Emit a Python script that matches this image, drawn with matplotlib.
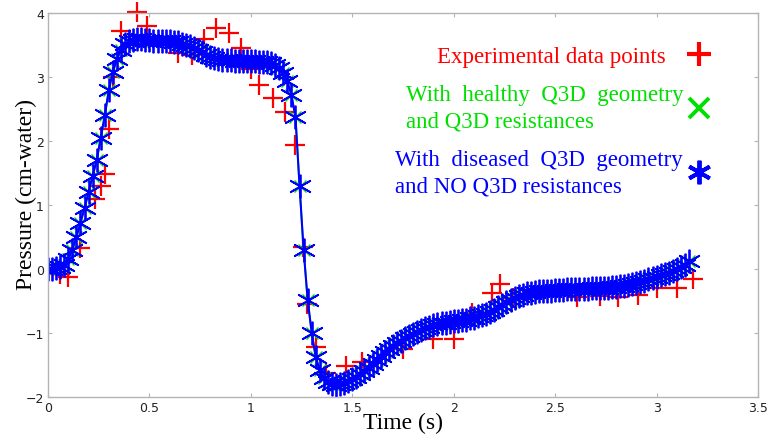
import numpy as np
import matplotlib
matplotlib.use("Agg")
import matplotlib.pyplot as plt
from matplotlib.lines import Line2D

# Simulated pressure, one sample every 0.02 s (rows of 0.2 s)
diseased_p = [
    0.00, 0.00, 0.01, 0.03, 0.07, 0.15, 0.30, 0.50, 0.72, 0.95,
    1.20, 1.45, 1.70, 2.05, 2.40, 2.80, 3.08, 3.28, 3.42, 3.51,
    3.56, 3.58, 3.59, 3.59, 3.58, 3.58, 3.57, 3.57, 3.57, 3.56,
    3.56, 3.55, 3.54, 3.52, 3.50, 3.48, 3.45, 3.42, 3.39, 3.35,
    3.32, 3.30, 3.28, 3.27, 3.26, 3.26, 3.25, 3.25, 3.25, 3.25,
    3.25, 3.25, 3.24, 3.24, 3.23, 3.22, 3.19, 3.14, 3.06, 2.93,
    2.72, 2.37, 1.30, 0.30, -0.48, -1.00, -1.38, -1.58, -1.70, -1.77,
    -1.80, -1.81, -1.80, -1.78, -1.75, -1.72, -1.68, -1.64, -1.59, -1.54,
    -1.48, -1.42, -1.36, -1.30, -1.25, -1.20, -1.16, -1.12, -1.08, -1.04,
    -1.01, -0.98, -0.95, -0.92, -0.90, -0.88, -0.86, -0.85, -0.84, -0.83,
    -0.82, -0.81, -0.80, -0.79, -0.77, -0.76, -0.74, -0.72, -0.70, -0.67,
    -0.64, -0.60, -0.56, -0.52, -0.48, -0.45, -0.42, -0.40, -0.38, -0.37,
    -0.36, -0.35, -0.35, -0.34, -0.34, -0.33, -0.33, -0.33, -0.32, -0.32,
    -0.32, -0.31, -0.31, -0.31, -0.30, -0.30, -0.30, -0.29, -0.29, -0.28,
    -0.28, -0.27, -0.26, -0.25, -0.24, -0.22, -0.20, -0.18, -0.16, -0.14,
    -0.12, -0.10, -0.08, -0.06, -0.03, 0.00, 0.03, 0.07, 0.12,
]
# healthy geometry run lies on top of the diseased one
healthy_p = list(diseased_p)
sim_t = np.arange(len(diseased_p)) * 0.02

# Measured points
exp_t = [0.06, 0.10, 0.16, 0.23, 0.26, 0.28, 0.30, 0.32, 0.36, 0.44,
         0.49, 0.64, 0.71, 0.77, 0.83, 0.89, 0.95, 1.00, 1.04, 1.11,
         1.17, 1.22, 1.255, 1.275, 1.32, 1.37, 1.47, 1.55, 1.75, 1.90,
         2.00, 2.09, 2.19, 2.23, 2.29, 2.61, 2.72, 2.81, 2.91, 3.00,
         3.10, 3.18]
exp_p = [-0.08, -0.12, 0.33, 1.10, 1.30, 1.48, 2.18, 3.00, 3.72, 4.02,
         3.80, 3.37, 3.35, 3.60, 3.77, 3.68, 3.45, 3.12, 2.88, 2.67,
         2.45, 1.93, 0.35, -0.55, -1.22, -1.62, -1.52, -1.45, -1.25, -1.10,
         -1.10, -0.68, -0.37, -0.24, -0.45, -0.44, -0.42, -0.44, -0.40, -0.30,
         -0.30, -0.16]

labels = ["Experimental data points   ",
          "With  healthy  Q3D  geometry\nand Q3D resistances",
          "With  diseased  Q3D  geometry\nand NO Q3D resistances"]

RED = "#ff0000"
GREEN = "#00e000"
BLUE = "#0000ff"
ASTER = (6, 2, 0)

fig = plt.figure(figsize=(7.73, 4.39), dpi=100)
ax = fig.add_axes([48 / 773, 41 / 439, 710 / 773, 384 / 439])

ax.plot(exp_t, exp_p, ls="none", marker="+", ms=14, mew=1.6, color=RED,
        clip_on=False)
ax.plot(sim_t, healthy_p, "-", marker="x", ms=9, mew=1.0, lw=1.3, color=GREEN)
ax.plot(sim_t, diseased_p, "-", marker=ASTER, ms=17, mew=1.3, lw=1.5, color=BLUE)

ax.set_xlim(0, 3.5)
ax.set_ylim(-2, 4)
ax.set_xticks([0, 0.5, 1, 1.5, 2, 2.5, 3, 3.5])
ax.set_xticklabels(["0", "0.5", "1", "1.5", "2", "2.5", "3", "3.5"])
ax.set_yticks([-2, -1, 0, 1, 2, 3, 4])

for s in ax.spines.values():
    s.set_color("#b4b4b4")
    s.set_linewidth(1.0)
ax.tick_params(direction="in", length=3, width=0.8, color="#b4b4b4",
               top=True, right=True, labelsize=9, labelcolor="#222222", pad=3)

serif = ["Liberation Serif", "DejaVu Serif"]
ax.set_xlabel("Time (s)", fontsize=17, family=serif, labelpad=-2)
ax.set_ylabel("Pressure (cm-water)", fontsize=17, family=serif, labelpad=-8)
ax.yaxis.label.set_y(0.53)

handles = [
    Line2D([], [], ls="none", marker="+", ms=17, mew=3, color=RED),
    Line2D([], [], ls="none", marker="x", ms=15, mew=2.8, color=GREEN),
    Line2D([], [], ls="none", marker=ASTER, ms=17, mew=2.8, color=BLUE),
]
leg = ax.legend(handles, labels, loc="upper right", bbox_to_anchor=(0.935, 0.915),
                frameon=False, markerfirst=False, numpoints=1, labelcolor="linecolor",
                prop={"family": serif, "size": 16.5}, handlelength=1.1,
                handletextpad=0.15, labelspacing=0.75, borderpad=0, borderaxespad=0)
for txt in leg.get_texts():
    txt.set_linespacing(1.35)

fig.savefig("out.png", dpi=100)
